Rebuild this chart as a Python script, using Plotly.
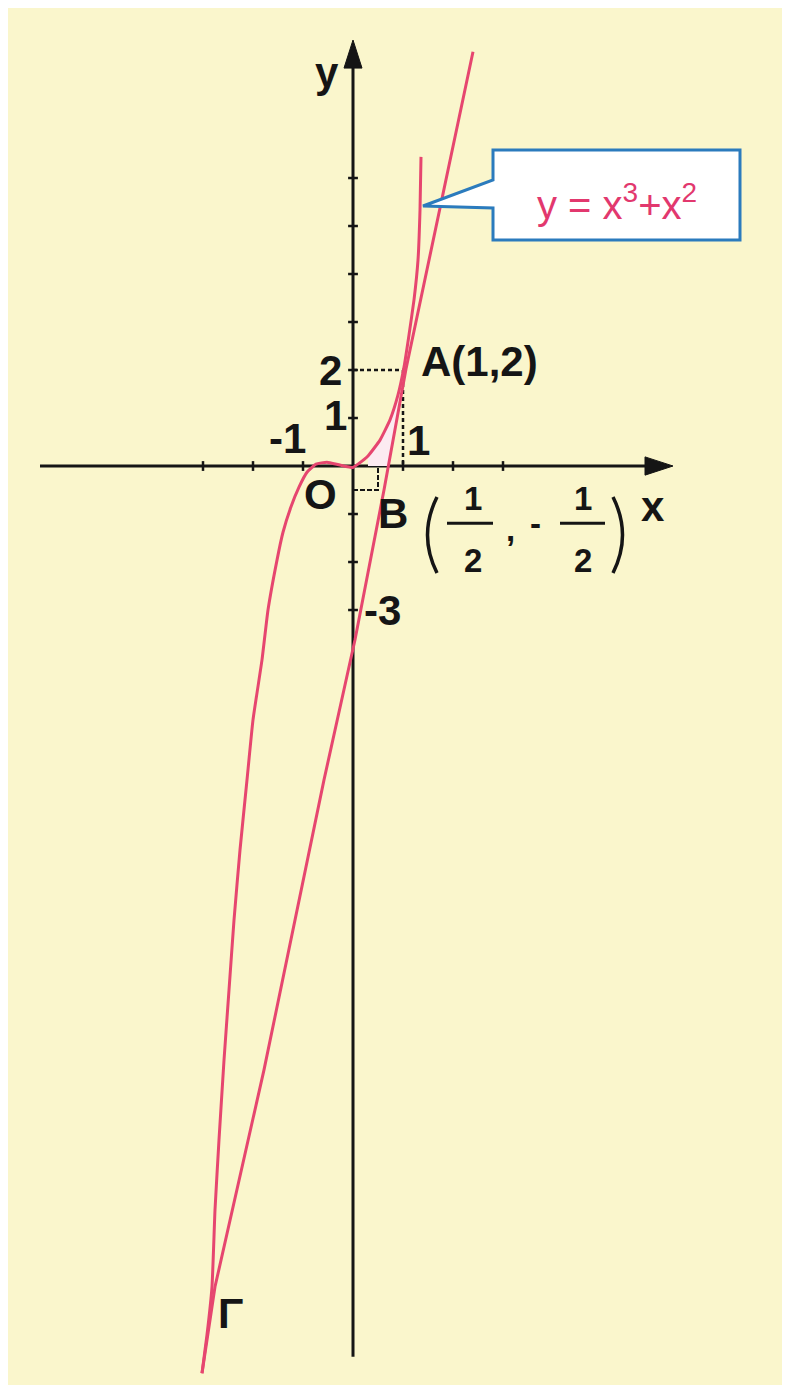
import numpy as np
import plotly.graph_objects as go

# ---- data (data units) ----
CURVE_X = [1.36, 1.34, 1.30, 1.22, 1.12, 1.02, 0.90, 0.74, 0.54, 0.30, 0.10, 0.00,
           -0.26, -0.52, -0.74, -0.92, -1.08, -1.24, -1.40, -1.52, -1.70, -1.82,
           -2.00, -2.12, -2.26, -2.38, -2.48, -2.58, -2.68, -2.76, -2.82, -2.92, -3.02]
CURVE_Y = [6.44, 5.33, 4.29, 3.46, 2.73, 2.06, 1.48, 0.96, 0.54, 0.21, 0.04, -0.03,
           0.02, 0.08, 0.04, -0.13, -0.44, -0.85, -1.38, -1.96, -3.00, -4.04,
           -5.29, -6.54, -8.00, -9.46, -10.92, -12.38, -14.04, -15.50, -17.10, -18.10, -18.90]

TANGENT_X = [2.40, 1.06, 0.62, 0.04, -0.58, -1.78, -2.76, -3.02]
TANGENT_Y = [8.63, 2.02, -0.50, -3.62, -6.54, -12.58, -17.10, -18.90]

POINT_A = (1, 2)
POINT_B = (0.5, -0.5)
X_TICKS = [-3, -2, -1, 1, 2, 3]
Y_TICKS = [-3, -2, -1, 1, 2, 3, 4, 5, 6]
X_RANGE = [-6.90, 8.74]
Y_RANGE = [-19.146, 9.542]

RED = "#e6466f"
BLACK = "#151515"
BLUE = "#2b7bbd"
BG = "#faf6cc"

fig = go.Figure()

# very light pink region between curve and tangent (from O up to A)
cx = np.array(CURVE_X)
cy = np.array(CURVE_Y)
mask = (cx >= 0.3) & (cy <= POINT_A[1] + 0.1)
seg_x = list(cx[mask])
seg_y = list(cy[mask])
ty = np.array(TANGENT_Y)[::-1]
tx = np.array(TANGENT_X)[::-1]
line_x0 = float(np.interp(0.0, ty, tx))
fill_x = seg_x + [0.3, line_x0, POINT_A[0]]
fill_y = seg_y + [0.0, 0.0, POINT_A[1]]
fig.add_trace(go.Scatter(x=fill_x, y=fill_y, fill="toself", mode="lines",
                         line=dict(width=0), fillcolor="#fcebf1", hoverinfo="skip"))

# dotted guides
fig.add_trace(go.Scatter(x=[0, POINT_A[0], POINT_A[0]], y=[POINT_A[1], POINT_A[1], 0],
                         mode="lines", line=dict(color=BLACK, width=2.5, dash="4px,3px")))
fig.add_trace(go.Scatter(x=[0, POINT_B[0], POINT_B[0]], y=[POINT_B[1], POINT_B[1], 0],
                         mode="lines", line=dict(color=BLACK, width=2, dash="5px,2px")))

# curve and tangent
fig.add_trace(go.Scatter(x=CURVE_X, y=CURVE_Y, mode="lines",
                         line=dict(color=RED, width=3, shape="spline", smoothing=0.4)))
fig.add_trace(go.Scatter(x=TANGENT_X, y=TANGENT_Y, mode="lines",
                         line=dict(color=RED, width=3)))

# axes lines, arrowheads, fraction bars, parentheses, callout
shapes = [
    dict(type="line", xref="x", yref="y", x0=-6.26, y0=0, x1=6.0, y1=0,
         line=dict(color=BLACK, width=3), layer="below"),
    dict(type="line", xref="x", yref="y", x0=0, y0=-18.56, x1=0, y1=8.5,
         line=dict(color=BLACK, width=3), layer="below"),
    dict(type="path", xref="x", yref="y",
         path="M 5.84 0.19 L 6.4 0 L 5.84 -0.19 Z", fillcolor=BLACK, line=dict(color=BLACK, width=1)),
    dict(type="path", xref="x", yref="y",
         path="M -0.18 8.29 L 0 8.875 L 0.18 8.29 Z", fillcolor=BLACK, line=dict(color=BLACK, width=1)),
    dict(type="line", xref="x", yref="y", x0=1.88, y0=-1.19, x1=2.80, y1=-1.19,
         line=dict(color=BLACK, width=3)),
    dict(type="line", xref="x", yref="y", x0=4.14, y0=-1.19, x1=5.04, y1=-1.19,
         line=dict(color=BLACK, width=3)),
    dict(type="path", xref="x", yref="y", path="M 1.68 -0.646 Q 1.30 -1.44 1.68 -2.23",
         line=dict(color=BLACK, width=3.5)),
    dict(type="path", xref="x", yref="y", path="M 5.20 -0.646 Q 5.58 -1.44 5.20 -2.23",
         line=dict(color=BLACK, width=3.5)),
    dict(type="path", xref="x", yref="y", layer="above",
         path="M 2.8 6.583 L 7.74 6.583 L 7.74 4.708 L 2.8 4.708 L 2.8 5.375 "
              "L 1.4 5.417 L 2.8 5.958 Z",
         fillcolor="white", line=dict(color=BLUE, width=3)),
]

# tick marks
fig.add_trace(go.Scatter(x=X_TICKS, y=[0] * len(X_TICKS), mode="markers",
                         marker=dict(symbol="line-ns", size=7, line=dict(color=BLACK, width=2.5))))
fig.add_trace(go.Scatter(x=[0] * len(Y_TICKS), y=Y_TICKS, mode="markers",
                         marker=dict(symbol="line-ew", size=7, line=dict(color=BLACK, width=2.5))))

F = "Liberation Sans, Arial, sans-serif"


def lab(text, x, y, size=42, xanchor="center", color=BLACK, bold=True):
    return dict(text=text, x=x, y=y, xref="x", yref="y", showarrow=False,
                xanchor=xanchor, yanchor="middle",
                font=dict(family=F, size=size, color=color, weight="bold" if bold else "normal"))


annotations = [
    lab("y", -0.52, 8.19),
    lab("x", 6.0, -0.85),
    lab("O", -0.66, -0.60),
    lab("2", -0.46, 2.0),
    lab("1", -0.36, 1.06),
    lab("-1", -1.32, 0.58),
    lab("1", 1.30, 0.54),
    lab("A(1,2)", 1.32, 2.17, xanchor="left"),
    lab("-3", 0.18, -3.0, xanchor="left"),
    lab("B", 0.80, -0.98),
    lab("Γ", -2.46, -17.65),
    lab("1", 2.40, -0.67, size=33),
    lab("2", 2.40, -1.96, size=33),
    lab(",", 3.14, -1.33, size=33),
    lab("-", 3.64, -1.19, size=33),
    lab("1", 4.60, -0.67, size=33),
    lab("2", 4.60, -1.96, size=33),
    lab("y = x<sup>3</sup>+x<sup>2</sup>", 5.28, 5.5, size=40, color="#e2386e", bold=False),
]

fig.update_layout(
    width=782, height=1377,
    margin=dict(l=0, r=0, t=0, b=0),
    paper_bgcolor="white", plot_bgcolor=BG,
    showlegend=False,
    xaxis=dict(range=X_RANGE, visible=False, fixedrange=True),
    yaxis=dict(range=Y_RANGE, visible=False, fixedrange=True),
    shapes=shapes, annotations=annotations,
)

fig.write_html("out.html")
